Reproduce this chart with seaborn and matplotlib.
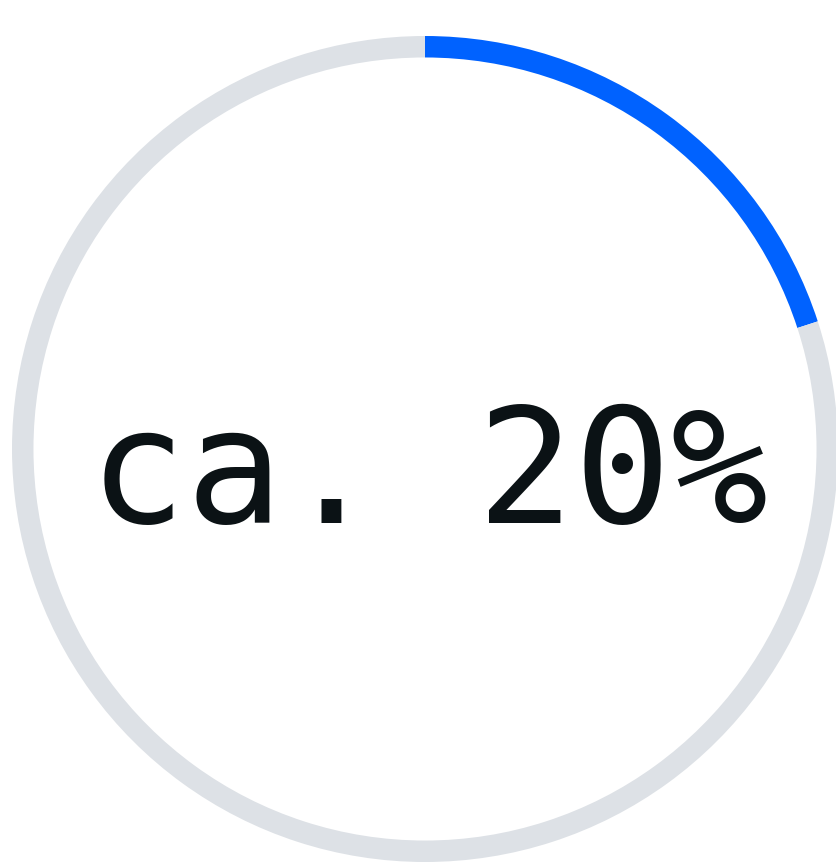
import seaborn as sns
import matplotlib.pyplot as plt

# progress ring data
segments = ['done', 'remaining']
shares = [20, 80]
label = 'ca. 20%'

colors = ['#0062ff', '#dde1e6']

sns.set_theme(style='white')

fig = plt.figure(figsize=(8.36, 8.63), dpi=100)
ax = fig.add_axes([0, 0, 1, 1])

# ring: thin donut starting at 12 o'clock going clockwise
ax.pie(shares, colors=colors, startangle=90, counterclock=False,
       radius=1.0, wedgeprops=dict(width=0.052, linewidth=0))

ax.text(0.008, -0.180, label, ha='center', va='baseline',
        fontsize=116, family='DejaVu Sans Mono', color='#0b1215')

# center of ring sits at (425, 449) px with radius 413 px
s = 413
ax.set_xlim(-425 / s, (836 - 425) / s)
ax.set_ylim(-(863 - 449) / s, 449 / s)
ax.set_aspect('auto')
ax.axis('off')

fig.savefig('out.png', dpi=100, facecolor='white')
